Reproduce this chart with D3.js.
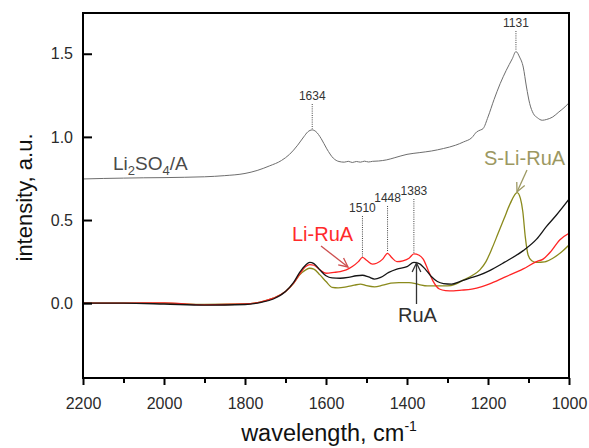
<!DOCTYPE html>
<html>
<head>
<meta charset="utf-8">
<script src="https://cdn.jsdelivr.net/npm/d3@7"></script>
<style>
  html, body { margin: 0; padding: 0; background: #fff; }
  svg { display: block; font-family: "Liberation Sans", Arial, sans-serif; }
</style>
</head>
<body>
<svg id="chart" width="589" height="448"></svg>
<script>
// IR spectra: reference salt and three resin samples
const wnLi2SO4 = [2200, 2150, 2100, 2050, 2000, 1950, 1900, 1850, 1800, 1770, 1740, 1710, 1690, 1670, 1655, 1645, 1634, 1625, 1612, 1598, 1582, 1568, 1555, 1545, 1535, 1525, 1515, 1505, 1495, 1485, 1470, 1450, 1430, 1400, 1370, 1340, 1310, 1280, 1260, 1240, 1228, 1218, 1212, 1200, 1185, 1170, 1155, 1140, 1131, 1122, 1113, 1105, 1097, 1088, 1078, 1066, 1055, 1040, 1025, 1010, 1000];
const valLi2SO4 = [0.747, 0.750, 0.752, 0.754, 0.755, 0.757, 0.760, 0.767, 0.780, 0.798, 0.825, 0.858, 0.895, 0.950, 1.000, 1.030, 1.042, 1.032, 0.990, 0.928, 0.872, 0.852, 0.848, 0.853, 0.846, 0.852, 0.848, 0.854, 0.849, 0.853, 0.855, 0.862, 0.875, 0.895, 0.905, 0.915, 0.930, 0.950, 0.970, 0.995, 1.030, 1.042, 1.050, 1.120, 1.225, 1.320, 1.400, 1.470, 1.513, 1.480, 1.420, 1.300, 1.200, 1.140, 1.115, 1.100, 1.105, 1.120, 1.150, 1.180, 1.205];

const wnRuA = [2200, 2100, 2000, 1900, 1800, 1760, 1730, 1700, 1680, 1665, 1650, 1640, 1630, 1615, 1600, 1585, 1565, 1545, 1525, 1510, 1495, 1480, 1465, 1445, 1425, 1400, 1383, 1370, 1355, 1340, 1325, 1310, 1290, 1270, 1245, 1220, 1196, 1160, 1113, 1080, 1056, 1031, 1000];
const valRuA = [0.0, 0.0, -0.005, -0.012, -0.008, 0.005, 0.025, 0.07, 0.125, 0.185, 0.23, 0.245, 0.238, 0.2, 0.165, 0.152, 0.15, 0.155, 0.165, 0.168, 0.158, 0.145, 0.155, 0.185, 0.205, 0.22, 0.245, 0.238, 0.205, 0.16, 0.13, 0.118, 0.115, 0.13, 0.15, 0.17, 0.196, 0.245, 0.316, 0.385, 0.46, 0.53, 0.625];

const wnLiRuA = [2200, 2100, 2000, 1900, 1800, 1760, 1730, 1700, 1680, 1665, 1650, 1640, 1630, 1615, 1600, 1580, 1565, 1550, 1535, 1520, 1510, 1500, 1485, 1475, 1460, 1448, 1438, 1425, 1410, 1395, 1383, 1370, 1360, 1348, 1335, 1320, 1305, 1285, 1265, 1240, 1215, 1196, 1160, 1113, 1080, 1064, 1045, 1023, 1000];
const valLiRuA = [0.0, 0.0, 0.002, -0.01, -0.005, 0.008, 0.03, 0.07, 0.12, 0.175, 0.22, 0.232, 0.228, 0.2, 0.18, 0.185, 0.19, 0.2, 0.22, 0.25, 0.275, 0.258, 0.235, 0.24, 0.265, 0.3, 0.275, 0.25, 0.255, 0.27, 0.296, 0.288, 0.265, 0.2, 0.13, 0.085, 0.076, 0.074, 0.078, 0.085, 0.1, 0.116, 0.155, 0.206, 0.25, 0.265, 0.31, 0.38, 0.42];

const wnSLiRuA = [2200, 2100, 2000, 1900, 1800, 1760, 1730, 1700, 1680, 1665, 1650, 1640, 1630, 1615, 1600, 1585, 1570, 1550, 1530, 1515, 1500, 1480, 1460, 1440, 1420, 1395, 1370, 1350, 1330, 1300, 1280, 1260, 1240, 1220, 1205, 1190, 1175, 1160, 1145, 1128, 1120, 1114, 1108, 1101, 1092, 1080, 1060, 1040, 1020, 1000];
const valSLiRuA = [0.0, 0.0, 0.0, -0.008, -0.005, 0.008, 0.03, 0.07, 0.12, 0.17, 0.2, 0.21, 0.205, 0.17, 0.13, 0.095, 0.092, 0.098, 0.108, 0.115, 0.105, 0.098, 0.108, 0.12, 0.124, 0.124, 0.112, 0.104, 0.104, 0.104, 0.115, 0.14, 0.165, 0.2, 0.25, 0.33, 0.42, 0.51, 0.6, 0.665, 0.63, 0.55, 0.4, 0.29, 0.255, 0.245, 0.248, 0.27, 0.305, 0.35];

const xTicks = [2200, 2000, 1800, 1600, 1400, 1200, 1000];
const xMinorTicks = [2100, 1900, 1700, 1500, 1300, 1100];
const yTicks = [0.0, 0.5, 1.0, 1.5];

// peak annotations: wavenumber and the spectrum it sits on
const peakLabels = ["1634", "1131", "1510", "1448", "1383"];
const peakSeries = ["Li2SO4", "Li2SO4", "LiRuA", "LiRuA", "LiRuA"];

const width = 589, height = 448;
const margin = { left: 83, right: 20, top: 13, bottom: 70 };
const svg = d3.select("#chart");

const x = d3.scaleLinear().domain([2200, 1000]).range([margin.left, width - margin.right]);
const y = d3.scaleLinear().domain([-0.45, 1.745]).range([height - margin.bottom, margin.top]);

const series = {
  Li2SO4: { wn: wnLi2SO4, v: valLi2SO4, color: "#6e6e6e", w: 1 },
  RuA:    { wn: wnRuA,    v: valRuA,    color: "#151515", w: 1.3 },
  LiRuA:  { wn: wnLiRuA,  v: valLiRuA,  color: "#ff2424", w: 1.3 },
  SLiRuA: { wn: wnSLiRuA, v: valSLiRuA, color: "#8a8a1c", w: 1.3 }
};

const line = d3.line().x(d => x(d[0])).y(d => y(d[1])).curve(d3.curveMonotoneX);

const plot = svg.append("g");
plot.append("clipPath").attr("id", "clip").append("rect")
  .attr("x", x(2200)).attr("y", y(1.745)).attr("width", x(1000) - x(2200)).attr("height", y(-0.45) - y(1.745));

const drawOrder = ["Li2SO4", "SLiRuA", "LiRuA", "RuA"];
drawOrder.forEach(k => {
  const s = series[k];
  plot.append("path")
    .attr("clip-path", "url(#clip)")
    .attr("d", line(d3.zip(s.wn, s.v)))
    .attr("fill", "none")
    .attr("stroke", s.color)
    .attr("stroke-width", s.w)
    .attr("stroke-linejoin", "round");
});

// axes
const xAxis = svg.append("g").attr("transform", `translate(0,${y(-0.45)})`)
  .call(d3.axisBottom(x).tickValues(xTicks).tickSize(7).tickPadding(13).tickFormat(d3.format("d")));
const xMinor = svg.append("g").attr("transform", `translate(0,${y(-0.45)})`)
  .call(d3.axisBottom(x).tickValues(xMinorTicks).tickSize(5).tickFormat(""));
const yAxis = svg.append("g").attr("transform", `translate(${x(2200)},0)`)
  .call(d3.axisLeft(y).tickValues(yTicks).tickSize(-9).tickPadding(10).tickFormat(d3.format(".1f")));

[xAxis, xMinor, yAxis].forEach(g => {
  g.select(".domain").remove();
  g.selectAll(".tick line").attr("stroke", "#000").attr("stroke-width", 2);
  g.selectAll(".tick text").attr("fill", "#2a2a2a").style("font-size", "16px").style("font-family", "'Liberation Sans', Arial, sans-serif");
});

// frame
svg.append("rect")
  .attr("x", x(2200)).attr("y", y(1.745))
  .attr("width", x(1000) - x(2200)).attr("height", y(-0.45) - y(1.745))
  .attr("fill", "none").attr("stroke", "#000").attr("stroke-width", 2);

// axis titles
svg.append("text")
  .attr("transform", `translate(32,${(y(1.745) + y(-0.45)) / 2 + 2}) rotate(-90)`)
  .attr("text-anchor", "middle")
  .style("font-size", "22px").attr("fill", "#111")
  .text("intensity, a.u.");

const xt = svg.append("text")
  .attr("x", (x(2200) + x(1000)) / 2 + 3).attr("y", 441)
  .attr("text-anchor", "middle")
  .style("font-size", "23.5px").attr("fill", "#111");
xt.append("tspan").text("wavelength, cm");
xt.append("tspan").attr("dy", -10).style("font-size", "14px").text("-1");

// peak labels with dotted leaders
const labelBaseline = [100, 27, 212, 202, 195];
peakLabels.forEach((lab, i) => {
  const wn = +lab;
  const s = series[peakSeries[i]];
  const idx = s.wn.indexOf(wn);
  const v = idx >= 0 ? s.v[idx] : s.v[d3.leastIndex(s.wn, w => Math.abs(w - wn))];
  const px = x(wn);
  svg.append("line")
    .attr("x1", px).attr("x2", px)
    .attr("y1", labelBaseline[i] + 4).attr("y2", y(v) - 1)
    .attr("stroke", "#444").attr("stroke-width", 1).attr("stroke-dasharray", "1,1.2");
  svg.append("text")
    .attr("x", px).attr("y", labelBaseline[i])
    .attr("text-anchor", "middle")
    .style("font-size", "12px").attr("fill", "#333")
    .text(lab);
});

// series names
const t1 = svg.append("text").attr("x", 113).attr("y", 170)
  .style("font-size", "19px").attr("fill", "#4a4a4a");
t1.append("tspan").text("Li");
t1.append("tspan").attr("dy", 5).style("font-size", "13px").text("2");
t1.append("tspan").attr("dy", -5).text("SO");
t1.append("tspan").attr("dy", 5).style("font-size", "13px").text("4");
t1.append("tspan").attr("dy", -5).text("/A");

svg.append("text").attr("x", 292).attr("y", 241)
  .style("font-size", "20px").attr("fill", "#ff2a2a").text("Li-RuA");
svg.append("text").attr("x", 398).attr("y", 322)
  .style("font-size", "20px").attr("fill", "#303030").text("RuA");
svg.append("text").attr("x", 484).attr("y", 165)
  .style("font-size", "20px").attr("fill", "#9c9862").text("S-Li-RuA");

// pointer arrows
function arrow(x1, y1, x2, y2, color, op) {
  const g = svg.append("g").attr("stroke", color).attr("stroke-width", 1.3).attr("fill", "none").attr("opacity", op);
  g.append("line").attr("x1", x1).attr("y1", y1).attr("x2", x2).attr("y2", y2);
  const a = Math.atan2(y2 - y1, x2 - x1), L = 10, sp = 0.45;
  g.append("path").attr("d",
    `M${x2 - L * Math.cos(a - sp)},${y2 - L * Math.sin(a - sp)} L${x2},${y2} L${x2 - L * Math.cos(a + sp)},${y2 - L * Math.sin(a + sp)}`);
}
arrow(321, 246, 348, 267, "#c83c3c", 0.9);
arrow(416.5, 304, 416.5, 263, "#333", 1);
arrow(527, 170, 517, 192, "#9c9862", 1);
</script>
</body>
</html>
